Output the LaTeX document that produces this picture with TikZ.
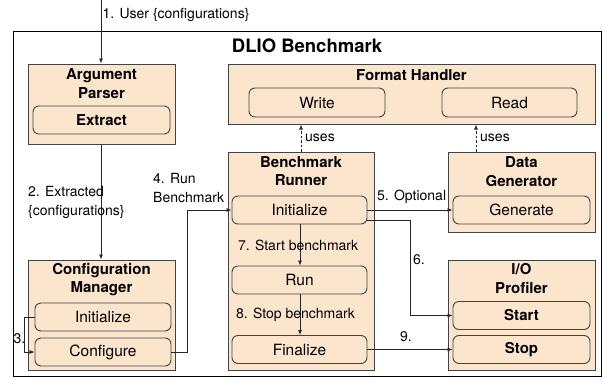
\documentclass[tikz,border=0pt]{standalone}
\usepackage{fontspec}
\setmainfont{TeX Gyre Heros}
\usetikzlibrary{arrows.meta,calc}
\definecolor{peach}{HTML}{FCE5CD}
\definecolor{edgecol}{HTML}{434343}
\begin{document}
\begin{tikzpicture}[x=1pt,y=-1pt,
  box/.style={draw=edgecol, fill=peach, line width=1pt, inner sep=0},
  ibox/.style={draw=edgecol, fill=peach, rounded corners=6pt, line width=0.9pt, inner sep=0,
    minimum height=28pt, font=\fontsize{15.5}{18}\selectfont},
  bibox/.style={ibox, font=\fontsize{15}{18}\bfseries\selectfont},
  ttl/.style={font=\fontsize{15}{18.5}\bfseries\selectfont, align=center, inner sep=0},
  lbl/.style={font=\fontsize{14}{19}\selectfont, align=left, inner sep=0, anchor=west},
  arr/.style={draw=black!85, line width=0.8pt, -{Latex[length=5pt,width=4pt]}},
  darr/.style={arr, dash pattern=on 2.5pt off 2pt}]
\useasboundingbox (0,0) rectangle (603,381);
\fill[white] (0,0) rectangle (603,381);
% outer frame
\node[draw=black, line width=1pt, minimum width=588pt, minimum height=345pt, inner sep=0] (frame) at (307,203.5) {};
\node[font=\fontsize{18.5}{20}\bfseries\selectfont, inner sep=0] (title) at (307,46) {DLIO Benchmark};
% main boxes
\node[box, minimum width=147pt, minimum height=80pt] (AP) at (101.5,104) {};
\node[box, minimum width=367pt, minimum height=60pt] (FH) at (411.5,94) {};
\node[box, minimum width=146pt, minimum height=218pt] (BR) at (301,261) {};
\node[box, minimum width=147pt, minimum height=80pt] (DG) at (521.5,192) {};
\node[box, minimum width=147pt, minimum height=110pt] (IO) at (521.5,315) {};
\node[box, minimum width=147pt, minimum height=110pt] (CM) at (101.5,315) {};
% titles
\node[ttl] (APt) at (101.5,83.5) {Argument\\Parser};
\node[ttl] (FHt) at (411.5,75.5) {Format Handler};
\node[ttl] (BRt) at (301,171) {Benchmark\\Runner};
\node[ttl] (DGt) at (521.5,171.5) {Data\\Generator};
\node[ttl] (IOt) at (521.5,278.5) {I/O\\Profiler};
\node[ttl] (CMt) at (101.5,279.5) {Configuration\\Manager};
% inner boxes
\node[bibox, minimum width=137pt] (EX) at (101.5,120) {Extract};
\node[ibox, minimum width=136pt, minimum height=29pt] (WR) at (317,102.5) {Write};
\node[ibox, minimum width=135pt, minimum height=29pt] (RD) at (509.5,102.5) {Read};
\node[ibox, minimum width=135pt] (BI) at (299.5,210) {Initialize};
\node[ibox, minimum width=135pt] (RUN) at (299.5,280) {Run};
\node[ibox, minimum width=135pt] (FIN) at (299.5,349.5) {Finalize};
\node[ibox, minimum width=137pt] (GEN) at (521.5,210) {Generate};
\node[bibox, minimum width=137pt] (ST) at (521.5,315.5) {Start};
\node[bibox, minimum width=137pt] (SP) at (521.5,349.5) {Stop};
\node[ibox, minimum width=136pt] (CI) at (103,317) {Initialize};
\node[ibox, minimum width=136pt] (CF) at (103,352) {Configure};
% connectors
\coordinate (in) at (101,0);
\draw[arr] (in) -- (in |- AP.north);
\node[lbl] (l1) at (102.5,15) {1. User \{configurations\}};
\draw[arr] (AP.south -| 101,0) -- (CM.north -| 101,0);
\node[lbl] (l2) at (28,202) {2. Extracted\\\{configurations\}};
\draw[arr] (CI.west) -- (24,317) -- (24,352) -- (CF.west);
\node[lbl] (l3) at (13.5,339) {3.};
\draw[arr] (CF.east) -- (187,352) -- (187,210) -- (BI.west);
\node[lbl] (l4) at (153,187.5) {4. Run\\Benchmark};
\draw[arr] (BI.east) -- (GEN.west);
\node[lbl] (l5) at (377,197) {5. Optional};
\draw[arr] (BI.east |- 0,220) -- (410,220) -- (410,315.5) -- (ST.west);
\node[lbl] (l6) at (413,260) {6.};
\draw[arr] (BI.south -| 300,0) -- (RUN.north -| 300,0);
\node[lbl] (l7) at (238,245) {7. Start benchmark};
\draw[arr] (RUN.south -| 300,0) -- (FIN.north -| 300,0);
\node[lbl] (l8) at (236,315) {8. Stop benchmark};
\draw[arr] (FIN.east) -- (SP.west);
\node[lbl] (l9) at (400,337) {9.};
\draw[darr] (BR.north) -- (BR.north |- FH.south);
\node[lbl] (u1) at (305,138) {uses};
\draw[darr] (DG.north -| 476,0) -- (FH.south -| 476,0);
\node[lbl] (u2) at (480,138) {uses};
\end{tikzpicture}
\end{document}
